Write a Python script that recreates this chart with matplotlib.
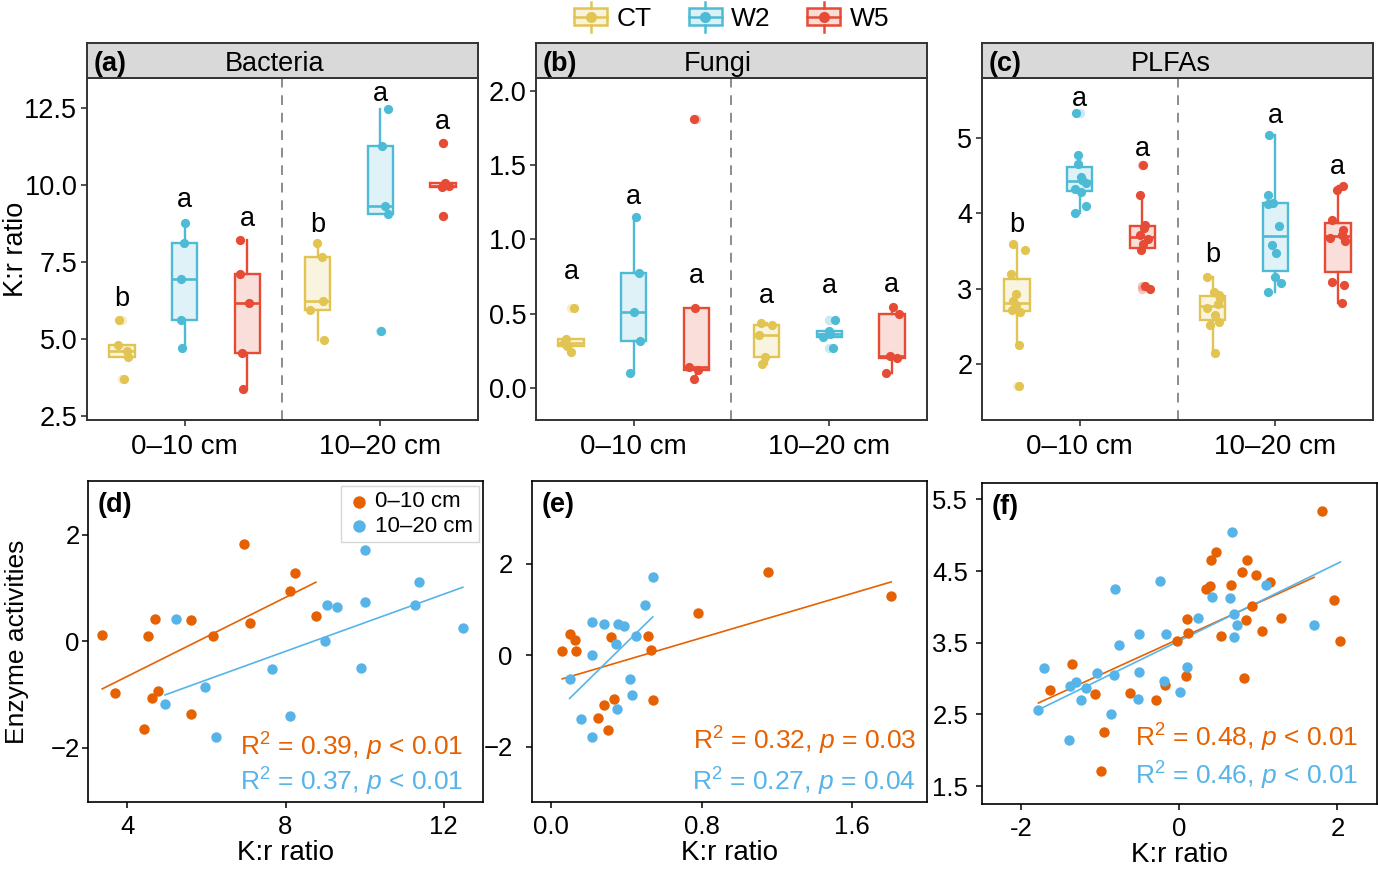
import numpy as np
import matplotlib
matplotlib.use("Agg")
import matplotlib.pyplot as plt
from matplotlib.colors import to_rgba
from matplotlib.legend_handler import HandlerBase
from matplotlib.patches import Rectangle
from matplotlib.lines import Line2D

plt.rcParams["font.family"] = ["Liberation Sans", "DejaVu Sans"]
plt.rcParams["mathtext.fontset"] = "custom"
plt.rcParams["mathtext.rm"] = "Liberation Sans"
plt.rcParams["mathtext.it"] = "Liberation Sans:italic"

# ---- data ----
treatments = ["CT", "W2", "W5"]
depths = ["0\u201310 cm", "10\u201320 cm"]

# K:r ratio per treatment, (0-10 cm, 10-20 cm)
bacteria = {
    "CT": ([3.71, 4.42, 4.60, 4.79, 5.60], [4.98, 5.95, 6.24, 7.65, 8.10]),
    "W2": ([4.71, 5.63, 6.96, 8.12, 8.77], [5.25, 9.06, 9.31, 11.25, 12.47]),
    "W5": ([3.39, 4.55, 6.17, 7.10, 8.22], [9.00, 9.92, 9.98, 10.05, 11.36]),
}
fungi = {
    "CT": ([0.24, 0.28, 0.30, 0.33, 0.54], [0.16, 0.21, 0.355, 0.42, 0.435]),
    "W2": ([0.096, 0.316, 0.51, 0.775, 1.15], [0.265, 0.34, 0.36, 0.385, 0.455]),
    "W5": ([0.056, 0.12, 0.14, 0.535, 1.81], [0.096, 0.20, 0.213, 0.494, 0.541]),
}
plfa = {
    "CT": ([1.71, 2.25, 2.69, 2.72, 2.78, 2.83, 2.93, 3.20, 3.52, 3.59],
           [2.15, 2.52, 2.56, 2.65, 2.75, 2.80, 2.87, 2.92, 2.95, 3.15]),
    "W2": ([4.01, 4.10, 4.29, 4.32, 4.40, 4.45, 4.49, 4.66, 4.78, 5.34],
           [2.96, 3.07, 3.16, 3.47, 3.58, 3.83, 4.12, 4.14, 4.25, 5.04]),
    "W5": ([3.00, 3.04, 3.52, 3.60, 3.66, 3.72, 3.80, 3.85, 4.25, 4.65],
           [2.81, 3.05, 3.09, 3.63, 3.67, 3.72, 3.78, 3.91, 4.31, 4.37]),
}

# significance letters and their heights
bact_letters = {"CT": ("b", "b"), "W2": ("a", "a"), "W5": ("a", "a")}
bact_letter_y = {"CT": (6.08, 8.46), "W2": (9.29, 12.71), "W5": (8.66, 11.80)}
fungi_letters = {"CT": ("a", "a"), "W2": ("a", "a"), "W5": ("a", "a")}
fungi_letter_y = {"CT": (0.73, 0.573), "W2": (1.238, 0.64), "W5": (0.707, 0.647)}
plfa_letters = {"CT": ("b", "b"), "W2": ("a", "a"), "W5": ("a", "a")}
plfa_letter_y = {"CT": (3.758, 3.36), "W2": (5.43, 5.20), "W5": (4.765, 4.525)}

# (d) bacteria K:r vs enzyme activities
d_x_top = [3.36, 3.69, 4.41, 4.52, 4.62, 4.69, 4.77, 5.60, 5.61, 6.17, 6.95, 7.10, 8.12, 8.23, 8.77]
d_y_top = [0.12, -0.98, -1.64, 0.10, -1.07, 0.41, -0.94, -1.36, 0.39, 0.10, 1.82, 0.34, 0.94, 1.29, 0.47]
d_x_sub = [4.95, 5.23, 5.95, 6.24, 7.65, 8.11, 9.00, 9.06, 9.30, 9.90, 10.00, 10.02, 11.28, 11.37, 12.49]
d_y_sub = [-1.18, 0.42, -0.86, -1.79, -0.52, -1.41, 0.00, 0.68, 0.64, -0.51, 0.74, 1.72, 0.69, 1.11, 0.25]

# (e) fungi K:r vs enzyme activities
e_x_top = [0.058, 0.097, 0.127, 0.133, 0.246, 0.281, 0.304, 0.319, 0.336, 0.515, 0.531, 0.540, 0.779, 1.154, 1.809]
e_y_top = [0.10, 0.47, 0.34, 0.10, -1.36, -1.08, -1.64, 0.39, -0.95, 0.41, 0.12, -0.98, 0.93, 1.81, 1.29]
e_x_sub = [0.097, 0.158, 0.216, 0.216, 0.219, 0.281, 0.343, 0.350, 0.354, 0.386, 0.419, 0.432, 0.450, 0.496, 0.540]
e_y_sub = [-0.52, -1.40, -1.78, 0.00, 0.73, 0.68, 0.25, -1.17, 0.69, 0.63, -0.52, -0.87, 0.41, 1.09, 1.71]

# (f) PLFA K:r vs enzyme activities
f_x_top = [-1.634, -1.352, -1.065, -0.981, -0.943, -0.623, -0.286, -0.181, -0.021, 0.093,
           0.097, 0.118, 0.337, 0.396, 0.408, 0.463, 0.535, 0.661, 0.800, 0.825,
           0.851, 0.863, 0.926, 0.977, 1.053, 1.145, 1.284, 1.806, 1.954, 2.038]
f_y_top = [2.835, 3.198, 2.784, 1.709, 2.249, 2.798, 2.705, 2.914, 3.528, 3.040,
           3.830, 3.635, 4.249, 4.295, 4.649, 4.770, 3.598, 4.305, 4.481, 3.007,
           3.821, 4.649, 4.007, 4.440, 3.658, 4.347, 3.840, 5.342, 4.100, 3.528]
f_x_sub = [-1.777, -1.709, -1.394, -1.373, -1.305, -1.242, -1.171, -1.036, -0.855, -0.821,
           -0.813, -0.762, -0.518, -0.505, -0.505, -0.236, -0.189, -0.160, 0.008, 0.101,
           0.244, 0.413, 0.640, 0.669, 0.691, 0.699, 0.733, 1.103, 1.705]
f_y_sub = [2.565, 3.147, 2.147, 2.900, 2.947, 2.695, 2.867, 3.077, 2.509, 3.044,
           4.249, 3.472, 2.714, 3.616, 3.091, 4.356, 2.960, 3.626, 2.807, 3.160,
           3.840, 4.137, 4.119, 5.044, 3.579, 3.905, 3.751, 4.300, 3.751]

stats_d = ("0.39", "< 0.01", "0.37", "< 0.01")
stats_e = ("0.32", "= 0.03", "0.27", "= 0.04")
stats_f = ("0.48", "< 0.01", "0.46", "< 0.01")

# ---- style ----
colors = {"CT": "#E2C452", "W2": "#4DBBD5", "W5": "#E64B35"}
c_top, c_sub = "#E66101", "#56B4E9"
frame = "#333333"
W, H = 1378, 874


def px(l, t, r, b):
    return [l / W, 1 - b / H, (r - l) / W, (b - t) / H]


class BoxHandler(HandlerBase):
    def create_artists(self, legend, orig_handle, xdescent, ydescent,
                       width, height, fontsize, trans):
        c = orig_handle.get_color()
        x0, y0 = -xdescent, -ydescent
        cx, cy = x0 + width / 2, y0 + height / 2
        bh = height * 0.62
        rect = Rectangle((x0, cy - bh / 2), width, bh, facecolor=to_rgba(c, 0.2),
                         edgecolor=c, linewidth=1.8, transform=trans)
        med = Line2D([x0, x0 + width], [cy, cy], color=c, lw=1.8, transform=trans)
        w1 = Line2D([cx, cx], [cy + bh / 2, y0 + height * 1.05], color=c, lw=1.8, transform=trans)
        w2 = Line2D([cx, cx], [cy - bh / 2, y0 - height * 0.05], color=c, lw=1.8, transform=trans)
        dot = Line2D([cx], [cy], marker="o", ms=8, color=c, mec="none", transform=trans)
        return [rect, med, w1, w2, dot]


fig = plt.figure(figsize=(W / 100, H / 100), dpi=100)
rng = np.random.default_rng(7)


def box_panel(rect, strip, tag, title, title_x, data, letters, letter_y, ylim, yticks, ylabels):
    ax = fig.add_axes(px(*rect))
    sax = fig.add_axes(px(*strip))
    sax.set_facecolor("#D9D9D9")
    sax.set_xticks([]); sax.set_yticks([])
    for s in sax.spines.values():
        s.set_color(frame); s.set_linewidth(1.4)
    sax.text(0.018, 0.2, tag, fontsize=19.5, fontweight="bold", va="baseline")
    sax.text(title_x, 0.2, title, fontsize=19.5, ha="center", va="baseline")

    for i, t in enumerate(treatments):
        c = colors[t]
        off = (i - 1) * 0.32
        for g in range(2):
            vals = np.array(data[t][g])
            pos = g + 1 + off
            ax.boxplot(vals, positions=[pos], widths=0.13, patch_artist=True,
                       showcaps=False, manage_ticks=False,
                       boxprops=dict(facecolor=to_rgba(c, 0.18), edgecolor=c, linewidth=1.7),
                       medianprops=dict(color=c, linewidth=1.9),
                       whiskerprops=dict(color=c, linewidth=1.7),
                       flierprops=dict(marker="o", markerfacecolor=to_rgba(c, 0.3),
                                       markeredgecolor="none", markersize=6.8))
            jit = rng.uniform(-0.04, 0.04, len(vals))
            ax.scatter(pos + jit, vals, s=44, color=c, linewidths=0, zorder=3)
            ax.text(pos, letter_y[t][g], letters[t][g], fontsize=19.5, ha="center", va="baseline")

    ax.axvline(1.5, color="#8C8C8C", lw=1.4, ls=(0, (5, 4)))
    ax.set_xlim(0.5, 2.5)
    ax.set_ylim(*ylim)
    ax.set_xticks([1, 2])
    ax.set_xticklabels(depths)
    ax.set_yticks(yticks)
    ax.set_yticklabels(ylabels)
    for s in ax.spines.values():
        s.set_color(frame); s.set_linewidth(1.4)
    ax.tick_params(labelsize=19.5, color=frame, length=4, width=1.2, pad=3)
    ax.tick_params(axis="x", labelsize=20, pad=6)
    return ax


ax_a = box_panel((87, 78, 478, 420), (87, 43, 478, 78), "(a)", "Bacteria", 0.48,
                 bacteria, bact_letters, bact_letter_y, (2.37, 13.47),
                 [2.5, 5.0, 7.5, 10.0, 12.5], ["2.5", "5.0", "7.5", "10.0", "12.5"])
ax_a.set_ylabel("K:r ratio", fontsize=19.5)
ax_a.yaxis.set_label_coords(-0.148, 0.5)
box_panel((536, 78, 927, 420), (536, 43, 927, 78), "(b)", "Fungi", 0.465,
          fungi, fungi_letters, fungi_letter_y, (-0.218, 2.088),
          [0.0, 0.5, 1.0, 1.5, 2.0], ["0.0", "0.5", "1.0", "1.5", "2.0"])
box_panel((982, 78, 1373, 420), (982, 43, 1373, 78), "(c)", "PLFAs", 0.482,
          plfa, plfa_letters, plfa_letter_y, (1.255, 5.80),
          [2, 3, 4, 5], ["2", "3", "4", "5"])

handles = [Line2D([], [], color=colors[t]) for t in treatments]
fig.legend(handles, treatments, handler_map={Line2D: BoxHandler()},
           loc="center", bbox_to_anchor=(0.531, 0.9805), ncol=3, frameon=False,
           fontsize=19, handlelength=1.25, handleheight=1.2, handletextpad=0.35,
           columnspacing=1.4)


def scatter_panel(rect, tag, xt, yt, xs, ys, stats, xlim, ylim, xticks, yticks,
                  xticklabels=None, yticklabels=None, top_fit=None, sub_fit=None,
                  top_range=None, sub_range=None, tx=0.95, ty=(0.146, 0.035), ypad=2):
    ax = fig.add_axes(px(*rect))
    ax.scatter(xt, yt, s=56, color=c_top, linewidths=0, zorder=3, label=depths[0])
    ax.scatter(xs, ys, s=56, color=c_sub, linewidths=0, zorder=3, label=depths[1])
    fits = ((top_fit or (xt, yt)), c_top, top_range or (min(xt), max(xt))), \
           ((sub_fit or (xs, ys)), c_sub, sub_range or (min(xs), max(xs)))
    for (x, y), c, (lo, hi) in fits:
        k, b0 = np.polyfit(x, y, 1)
        xx = np.array([lo, hi])
        ax.plot(xx, k * xx + b0, color=c, lw=1.2, zorder=2)
    ax.text(tx, ty[0], r"R$^{2}$ = %s, $\it{p}$ %s" % stats[:2], transform=ax.transAxes,
            ha="right", va="baseline", fontsize=19, color=c_top)
    ax.text(tx, ty[1], r"R$^{2}$ = %s, $\it{p}$ %s" % stats[2:], transform=ax.transAxes,
            ha="right", va="baseline", fontsize=19, color=c_sub)
    ax.text(0.025, 0.965, tag, transform=ax.transAxes, fontsize=19.5, fontweight="bold", va="top")
    ax.set_xlim(*xlim); ax.set_ylim(*ylim)
    ax.set_xticks(xticks); ax.set_yticks(yticks)
    if xticklabels is not None:
        ax.set_xticklabels(xticklabels)
    if yticklabels is not None:
        ax.set_yticklabels(yticklabels)
    for s in ax.spines.values():
        s.set_color("black"); s.set_linewidth(1.2)
    ax.tick_params(labelsize=18.5, length=4, width=1.1)
    ax.tick_params(axis="x", pad=5)
    ax.tick_params(axis="y", pad=ypad)
    ax.set_xlabel("K:r ratio", fontsize=20, labelpad=1)
    return ax


ax_d = scatter_panel((88, 481, 483, 802), "(d)", d_x_top, d_y_top, d_x_sub, d_y_sub, stats_d,
                     (3.0, 13.0), (-3.02, 3.01), [4, 8, 12], [-2, 0, 2])
ax_d.set_ylabel("Enzyme activities", fontsize=19)
ax_d.yaxis.set_label_coords(-0.15, 0.5)
ax_d.legend(loc="upper right", bbox_to_anchor=(0.99, 0.985), fontsize=16, frameon=True,
            fancybox=False, edgecolor="#CCCCCC", borderaxespad=0, handletextpad=0.2,
            labelspacing=0.15, borderpad=0.25, handlelength=1.1, markerscale=1.2)
scatter_panel((532, 481, 927, 802), "(e)", e_x_top, e_y_top, e_x_sub, e_y_sub, stats_e,
              (-0.103, 2.0), (-3.2, 3.8), [0.0, 0.8, 1.6], [-2, 0, 2],
              xticklabels=["0.0", "0.8", "1.6"], tx=0.972, ty=(0.162, 0.037), ypad=10)
f_x_all = f_x_top + f_x_sub
f_y_all = f_y_top + f_y_sub
scatter_panel((982, 483, 1377, 804), "(f)", f_x_top, f_y_top, f_x_sub, f_y_sub, stats_f,
              (-2.49, 2.5), (1.25, 5.73), [-2, 0, 2], [1.5, 2.5, 3.5, 4.5, 5.5],
              xticklabels=["-2", "0", "2"], yticklabels=["1.5", "2.5", "3.5", "4.5", "5.5"],
              top_fit=(f_x_sub, f_y_sub), sub_fit=(f_x_all, f_y_all),
              top_range=(min(f_x_sub), max(f_x_sub)), sub_range=(min(f_x_all), max(f_x_all)),
              tx=0.952, ty=(0.178, 0.059), ypad=6)

fig.savefig("out.png", dpi=100)
